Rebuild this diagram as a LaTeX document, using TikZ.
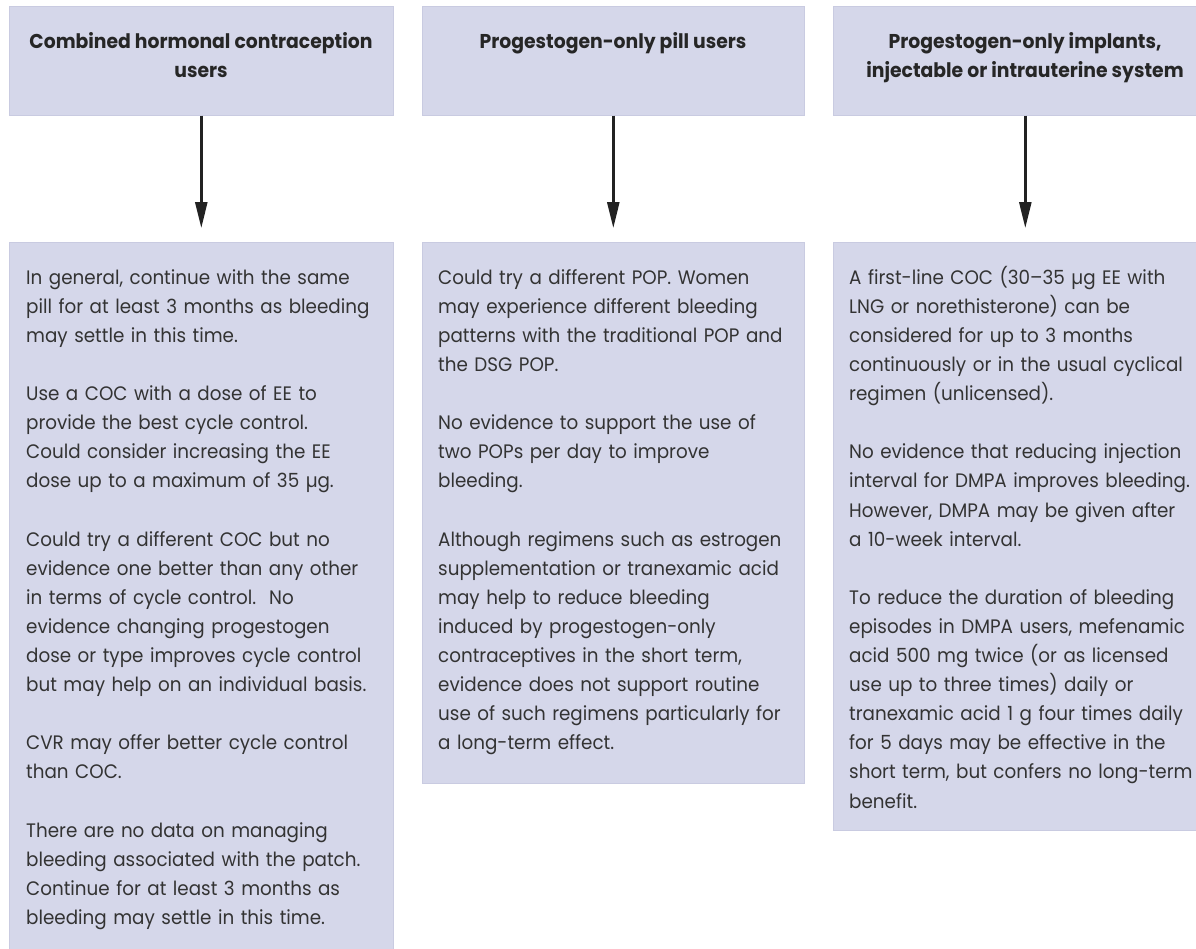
\documentclass[tikz,border=0pt]{standalone}
\usepackage{fontspec}
\setmainfont{Poppins}
\newfontfamily\bodyfont[FakeStretch=0.94]{Poppins}
\usetikzlibrary{arrows.meta}
\definecolor{boxfill}{HTML}{D5D7EA}
\definecolor{boxedge}{HTML}{C9CBE1}
\definecolor{txt}{HTML}{333333}
\definecolor{headtxt}{HTML}{262626}
\definecolor{arrowcol}{HTML}{222222}
\tikzset{
  panel/.style={fill=boxfill, draw=boxedge, line width=0.6pt, inner sep=0pt, anchor=north west},
  body/.style={anchor=north west, inner sep=0pt, text width=440pt, align=left, text=txt,
    font=\bodyfont\fontsize{19.5}{29.1}\selectfont},
  head/.style={anchor=north, inner sep=0pt, align=center, text=headtxt,
    font=\bodyfont\bfseries\fontsize{20}{29.1}\selectfont},
  flow/.style={draw=arrowcol, line width=2.5pt, -{Triangle[length=26pt,width=12pt]}, shorten >=14pt}
}
\begin{document}
\begin{tikzpicture}[x=1pt,y=1pt]
\useasboundingbox (0,0) rectangle (1196,-948);
\clip (0,0) rectangle (1196,-948);
\fill[white] (0,0) rectangle (1196,-948);
% top boxes
\node[panel, minimum width=384pt, minimum height=109pt] (t1) at (9,-6) {};
\node[panel, minimum width=382pt, minimum height=109pt] (t2) at (422,-6) {};
\node[panel, minimum width=384pt, minimum height=109pt] (t3) at (833,-6) {};
% bottom boxes
\node[panel, minimum width=384pt, minimum height=720pt] (b1) at (9,-242) {};
\node[panel, minimum width=382pt, minimum height=541pt] (b2) at (422,-242) {};
\node[panel, minimum width=384pt, minimum height=588pt] (b3) at (833,-242) {};
% headers
\node[head] (h1) at (201,-27.63) {\strut Combined hormonal contraception\\users};
\node[head] (h2) at (613,-27.63) {\strut Progestogen-only pill users};
\node[head] (h3) at (1025,-27.63) {\strut Progestogen-only implants,\\injectable or intrauterine system};
% arrows
\draw[flow] (t1.south) -- (b1.north);
\draw[flow] (t2.south) -- (b2.north);
\draw[flow] (t3.south) -- (b3.north);
% body texts
\node[body] (p1) at (26,-263.63) {\strut In general, continue with the same\\
pill for at least 3 months as bleeding\\
may settle in this time.\\[29.1pt]
Use a COC with a dose of EE to\\
provide the best cycle control.\\
Could consider increasing the EE\\
dose up to a maximum of 35 µg.\\[29.1pt]
Could try a different COC but no\\
evidence one better than any other\\
in terms of cycle control.\ \ No\\
evidence changing progestogen\\
dose or type improves cycle control\\
but may help on an individual basis.\\[29.1pt]
CVR may offer better cycle control\\
than COC.\\[29.1pt]
There are no data on managing\\
bleeding associated with the patch.\\
Continue for at least 3 months as\\
bleeding may settle in this time.};
\node[body] (p2) at (438,-263.63) {\strut Could try a different POP. Women\\
may experience different bleeding\\
patterns with the traditional POP and\\
the DSG POP.\\[29.1pt]
No evidence to support the use of\\
two POPs per day to improve\\
bleeding.\\[29.1pt]
Although regimens such as estrogen\\
supplementation or tranexamic acid\\
may help to reduce bleeding\\
induced by progestogen-only\\
contraceptives in the short term,\\
evidence does not support routine\\
use of such regimens particularly for\\
a long-term effect.};
\node[body] (p3) at (849,-263.63) {\strut A first-line COC (30–35 µg EE with\\
LNG or norethisterone) can be\\
considered for up to 3 months\\
continuously or in the usual cyclical\\
regimen (unlicensed).\\[29.1pt]
No evidence that reducing injection\\
interval for DMPA improves bleeding.\\
However, DMPA may be given after\\
a 10-week interval.\\[29.1pt]
To reduce the duration of bleeding\\
episodes in DMPA users, mefenamic\\
acid 500 mg twice (or as licensed\\
use up to three times) daily or\\
tranexamic acid 1 g four times daily\\
for 5 days may be effective in the\\
short term, but confers no long-term\\
benefit.};
\end{tikzpicture}
\end{document}
